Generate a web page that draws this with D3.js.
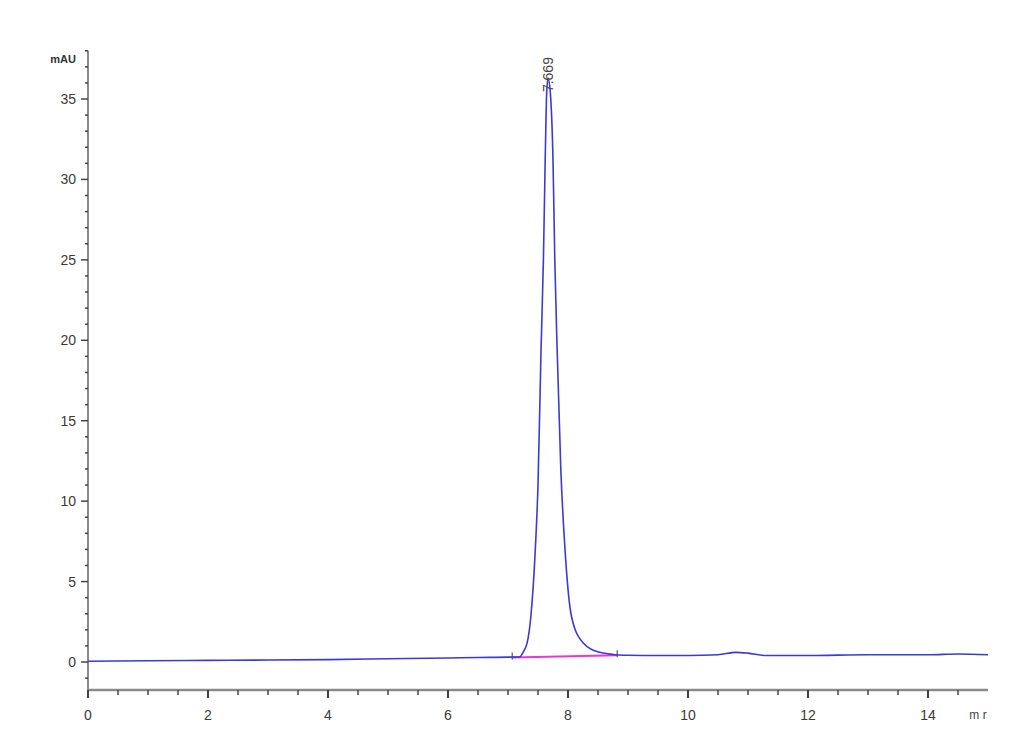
<!DOCTYPE html>
<html><head><meta charset="utf-8">
<script src="https://cdn.jsdelivr.net/npm/d3@7"></script>
<style>body{margin:0;background:#fff}</style>
</head><body>
<svg id="c" width="1030" height="755"></svg>
<script>
const timeMin = [0, 1, 2, 3, 4, 5, 6, 6.5, 7.0, 7.2, 7.25, 7.32, 7.38, 7.455, 7.5, 7.55, 7.59, 7.62, 7.645, 7.667, 7.705, 7.75, 7.78, 7.82, 7.88, 7.95, 8.06, 8.25, 8.53, 8.8, 9.0, 9.5, 10.0, 10.5, 10.8, 11.0, 11.3, 12.0, 13.0, 14.0, 14.5, 15.0];
const signalMAU = [0.05, 0.08, 0.1, 0.12, 0.15, 0.2, 0.25, 0.28, 0.3, 0.33, 0.6, 1.2, 2.8, 7, 11, 19.3, 25, 31.2, 35.4, 36.3, 35.4, 31.2, 25, 19.3, 12, 7, 2.8, 1.2, 0.6, 0.45, 0.42, 0.4, 0.4, 0.45, 0.6, 0.55, 0.4, 0.4, 0.45, 0.45, 0.5, 0.45];
const integStart = [7.07, 0.28];
const integEnd = [8.82, 0.42];
const peakLabel = "7.669";
const peakRT = 7.667, peakTop = 36.3;
const yTicks = [0, 5, 10, 15, 20, 25, 30, 35];
const xTicks = [0, 2, 4, 6, 8, 10, 12, 14];

const svg = d3.select("#c");
const x = d3.scaleLinear().domain([0, 15]).range([88, 988]);
const y = d3.scaleLinear().domain([0, 35]).range([662, 99]);
const font = "'Liberation Sans Narrow','Liberation Sans',Arial,sans-serif";
const axisCol = "#8a8a8a";

// Y axis
svg.append("line").attr("x1", 88).attr("x2", 88).attr("y1", y(38)).attr("y2", 691)
  .attr("stroke", axisCol).attr("stroke-width", 2);
d3.range(-1, 39).forEach(v => {
  const major = v % 5 === 0;
  svg.append("line").attr("x1", major ? 81 : 85).attr("x2", 88)
    .attr("y1", y(v)).attr("y2", y(v)).attr("stroke", "#444").attr("stroke-width", 1.5);
});
svg.selectAll(".yl").data(yTicks).enter().append("text")
  .attr("x", 76).attr("y", d => y(d) + 5).attr("text-anchor", "end")
  .attr("font-family", font).attr("font-size", 14).attr("fill", "#3a3a3a").text(d => d);
svg.append("text").attr("x", 76).attr("y", 63).attr("text-anchor", "end")
  .attr("font-family", font).attr("font-size", 11).attr("font-weight", "bold").attr("fill", "#333").text("mAU");

// X axis
svg.append("line").attr("x1", 88).attr("x2", 988).attr("y1", 690).attr("y2", 690)
  .attr("stroke", axisCol).attr("stroke-width", 2.5);
d3.range(0, 30).forEach(i => {
  const v = i * 0.5;
  const major = i % 4 === 0;
  svg.append("line").attr("x1", x(v)).attr("x2", x(v)).attr("y1", 690).attr("y2", major ? 698 : 695)
    .attr("stroke", "#444").attr("stroke-width", major ? 2 : 1.5);
});
svg.selectAll(".xl").data(xTicks).enter().append("text")
  .attr("x", d => x(d)).attr("y", 720).attr("text-anchor", "middle")
  .attr("font-family", font).attr("font-size", 14).attr("fill", "#3a3a3a").text(d => d);
svg.append("text").attr("x", 978).attr("y", 719).attr("text-anchor", "middle")
  .attr("font-family", font).attr("font-size", 12).attr("fill", "#444").text("m r");

// integration baseline
svg.append("line").attr("x1", x(integStart[0])).attr("y1", y(integStart[1]))
  .attr("x2", x(integEnd[0])).attr("y2", y(integEnd[1]))
  .attr("stroke", "#ee33dd").attr("stroke-width", 2);
[integStart, integEnd].forEach(p => {
  svg.append("line").attr("x1", x(p[0])).attr("x2", x(p[0]))
    .attr("y1", y(p[1]) - 5).attr("y2", y(p[1]) + 2).attr("stroke", "#333").attr("stroke-width", 1);
});

// signal
const data = timeMin.map((t, i) => [t, signalMAU[i]]);
const line = d3.line().x(d => x(d[0])).y(d => y(d[1])).curve(d3.curveMonotoneX);
svg.append("path").attr("d", line(data)).attr("fill", "none")
  .attr("stroke", "#3a3ad6").attr("stroke-width", 1.6);

// peak label
svg.append("text").attr("transform", `translate(${x(peakRT) + 5},${y(peakTop) + 14}) rotate(-90)`)
  .attr("font-family", font).attr("font-size", 14).attr("fill", "#444").text(peakLabel);
</script>
</body></html>
